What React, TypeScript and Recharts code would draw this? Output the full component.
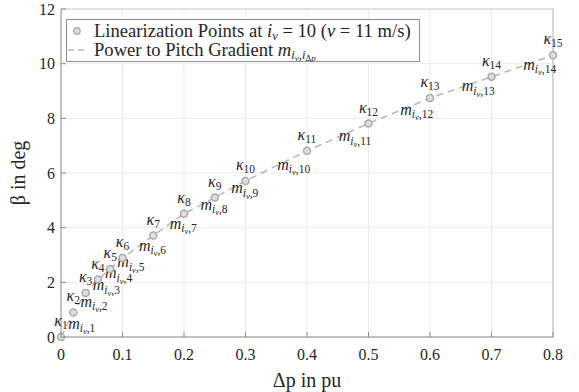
import React from "react";
import {
  CartesianGrid,
  ComposedChart,
  Legend,
  Line,
  ReferenceLine,
  Scatter,
  XAxis,
  YAxis,
} from "recharts";

const deltaP = [0, 0.02, 0.04, 0.06, 0.08, 0.1, 0.15, 0.2, 0.25, 0.3, 0.4, 0.5, 0.6, 0.7, 0.8];
const beta = [0, 0.9, 1.61, 2.1, 2.49, 2.89, 3.71, 4.51, 5.1, 5.71, 6.81, 7.81, 8.74, 9.52, 10.31];
const xTicks = [0, 0.1, 0.2, 0.3, 0.4, 0.5, 0.6, 0.7, 0.8];
const yTicks = [0, 2, 4, 6, 8, 10, 12];

const FONT = "'Liberation Serif', 'Times New Roman', serif";
const INK = "#262626";
const LINE_GRAY = "#b8b8b8";
const AXIS_GRAY = "#8c8c8c";

const points = deltaP.map((x, i) => ({ x, beta: beta[i], n: i + 1 }));
// gradient labels sit at the middle of each segment
const segments = deltaP.slice(0, -1).map((x, i) => ({
  x: (x + deltaP[i + 1]) / 2,
  beta: (beta[i] + beta[i + 1]) / 2,
  n: i + 1,
}));

const Marker = (props: any) => {
  const { cx, cy } = props;
  if (cx == null || cy == null) return null;
  return <circle cx={cx} cy={cy} r={3.5} fill="#dedede" stroke="#aaaaaa" strokeWidth={1.5} />;
};

const KappaLabel = (props: any) => {
  const { x, y, index } = props;
  return (
    <text x={x} y={y - 11} textAnchor="middle" fontFamily={FONT} fontSize={16} fill={INK}>
      <tspan fontStyle="italic">κ</tspan>
      <tspan fontSize={11.5} dy={3}>{index + 1}</tspan>
    </text>
  );
};

const GradientLabel = (props: any) => {
  const { cx, cy, payload } = props;
  if (cx == null || cy == null) return null;
  return (
    <text x={cx + 1} y={cy + 4} fontFamily={FONT} fontSize={16} fill={INK}>
      <tspan fontStyle="italic">m</tspan>
      <tspan fontSize={11.5} dy={3.5} fontStyle="italic">i</tspan>
      <tspan fontSize={8.5} dy={2} fontStyle="italic">v</tspan>
      <tspan fontSize={11.5} dy={-2}>,{payload.n}</tspan>
    </text>
  );
};

const XTick = (props: any) => {
  const { x, y, payload } = props;
  return (
    <g>
      <line x1={x} x2={x} y1={y} y2={y - 5} stroke={AXIS_GRAY} />
      <text x={x} y={y + 23} textAnchor="middle" fontFamily={FONT} fontSize={16} fill={INK}>
        {payload.value}
      </text>
    </g>
  );
};

const YTick = (props: any) => {
  const { x, y, payload } = props;
  return (
    <g>
      <line x1={x} x2={x + 5} y1={y} y2={y} stroke={AXIS_GRAY} />
      <text x={x - 6} y={y + 5.5} textAnchor="end" fontFamily={FONT} fontSize={16} fill={INK}>
        {payload.value}
      </text>
    </g>
  );
};

const LegendBox = () => (
  <svg width={354} height={43} style={{ display: "block" }}>
    <rect x={0.5} y={0.5} width={353} height={42} fill="#fff" stroke="#8f8f8f" />
    <circle cx={11} cy={12} r={3.2} fill="#dedede" stroke="#aaaaaa" strokeWidth={1.4} />
    <text x={28} y={17.5} fontFamily={FONT} fontSize={18.6} fill={INK}>
      Linearization Points at{" "}
      <tspan fontStyle="italic">i</tspan>
      <tspan fontSize={12.5} dy={3.5} fontStyle="italic">v</tspan>
      <tspan dy={-3.5}> = 10 (</tspan>
      <tspan fontStyle="italic">v</tspan>
      <tspan> = 11 m/s)</tspan>
    </text>
    <line x1={2} x2={20} y1={31} y2={31} stroke={LINE_GRAY} strokeWidth={1.5} strokeDasharray="6 4" />
    <text x={28} y={36.5} fontFamily={FONT} fontSize={18.6} fill={INK}>
      Power to Pitch Gradient{" "}
      <tspan fontStyle="italic">m</tspan>
      <tspan fontSize={12.5} dy={3.5} fontStyle="italic">i</tspan>
      <tspan fontSize={9} dy={2} fontStyle="italic">v</tspan>
      <tspan fontSize={12.5} dy={-2}>,</tspan>
      <tspan fontSize={12.5} fontStyle="italic">i</tspan>
      <tspan fontSize={9} dy={2}>Δ</tspan>
      <tspan fontSize={9} fontStyle="italic">p</tspan>
    </text>
  </svg>
);

export default function App() {
  return (
    <div style={{ position: "absolute", left: 0, top: 0, width: 579, height: 392, background: "#fff" }}>
      <ComposedChart width={579} height={392} margin={{ top: 9, right: 26, left: 0, bottom: 0 }}>
        <CartesianGrid stroke="#ebebeb" horizontalValues={yTicks} verticalValues={xTicks} />
        <XAxis
          type="number"
          dataKey="x"
          domain={[0, 0.8]}
          ticks={xTicks}
          height={55}
          stroke={AXIS_GRAY}
          tickSize={0}
          tickMargin={0}
          tick={<XTick />}
          label={{
            value: "Δp in pu",
            position: "insideBottom",
            offset: 5,
            fontFamily: FONT,
            fontSize: 20,
            fill: INK,
          }}
        />
        <YAxis
          type="number"
          domain={[0, 12]}
          ticks={yTicks}
          width={61}
          stroke={AXIS_GRAY}
          tickSize={0}
          tickMargin={0}
          tick={<YTick />}
          label={{
            value: "β in deg",
            angle: -90,
            position: "insideLeft",
            offset: 18,
            style: { textAnchor: "middle" },
            fontFamily: FONT,
            fontSize: 20,
            fill: INK,
          }}
        />
        <ReferenceLine y={12} stroke="#cfcfcf" />
        <ReferenceLine x={0.8} stroke="#b5b5b5" />
        <Legend
          layout="vertical"
          align="center"
          verticalAlign="middle"
          content={() => <LegendBox />}
          wrapperStyle={{ left: 66, top: 19, width: 354, height: 43 }}
        />
        <Line
          data={points}
          dataKey="beta"
          type="linear"
          stroke={LINE_GRAY}
          strokeWidth={1.6}
          strokeDasharray="7 5"
          dot={<Marker />}
          activeDot={false}
          label={<KappaLabel />}
          isAnimationActive={false}
        />
        <Scatter
          data={segments}
          dataKey="beta"
          shape={<GradientLabel />}
          isAnimationActive={false}
        />
      </ComposedChart>
    </div>
  );
}
